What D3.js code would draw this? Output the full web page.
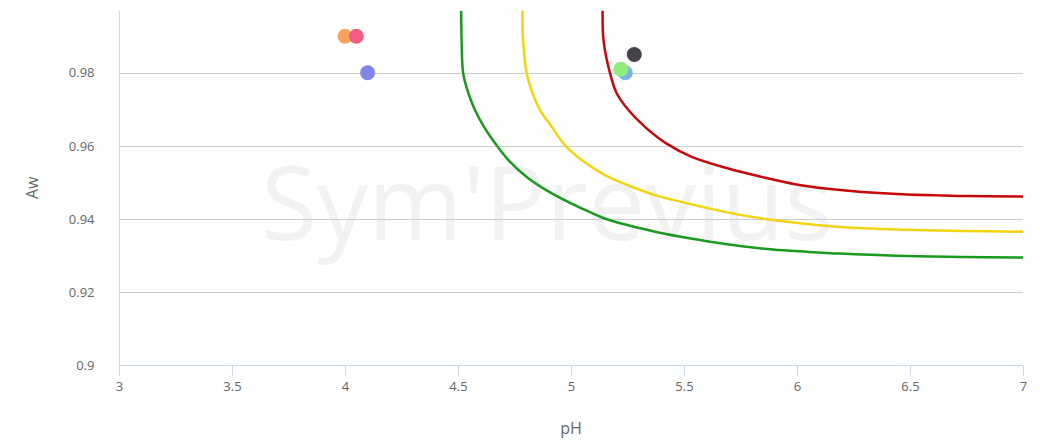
<!DOCTYPE html>
<html>
<head>
<meta charset="utf-8">
<script src="https://cdn.jsdelivr.net/npm/d3@7"></script>
<style>
  html, body { margin: 0; padding: 0; background: #fff; }
  svg { display: block; font-family: "Open Sans", "Noto Sans", sans-serif; }
</style>
</head>
<body>
<svg id="chart" width="1040" height="440"></svg>
<script>
// ---- data ----
const xTicks = [3, 3.5, 4, 4.5, 5, 5.5, 6, 6.5, 7];
const yTicks = [0.9, 0.92, 0.94, 0.96, 0.98];
const xTitle = "pH";
const yTitle = "Aw";
const watermark = "Sym'Previus";

const greenCurve = [
  [4.514, 0.9970], [4.516, 0.9889], [4.523, 0.9798], [4.546, 0.9744], [4.575, 0.9698],
  [4.615, 0.9652], [4.664, 0.9607], [4.723, 0.9561], [4.804, 0.9515], [4.915, 0.9470],
  [5.047, 0.9429], [5.150, 0.9401], [5.372, 0.9365], [5.602, 0.9339], [5.748, 0.9326],
  [5.894, 0.9316], [6.044, 0.9310], [6.190, 0.9305], [6.442, 0.9299], [6.735, 0.9296],
  [7.0, 0.9294]
];
const yellowCurve = [
  [4.785, 0.9970], [4.788, 0.9889], [4.804, 0.9798], [4.830, 0.9744], [4.863, 0.9698],
  [4.915, 0.9652], [4.973, 0.9602], [5.047, 0.9561], [5.150, 0.9520], [5.269, 0.9488],
  [5.372, 0.9465], [5.451, 0.9452], [5.602, 0.9430], [5.748, 0.9411], [5.894, 0.9397],
  [6.044, 0.9386], [6.190, 0.9378], [6.442, 0.9371], [6.735, 0.9367], [7.0, 0.9365]
];
const redCurve = [
  [5.140, 0.9970], [5.144, 0.9889], [5.173, 0.9798], [5.202, 0.9744], [5.254, 0.9698],
  [5.327, 0.9652], [5.423, 0.9606], [5.534, 0.9570], [5.696, 0.9538], [5.844, 0.9515],
  [5.991, 0.9495], [6.146, 0.9482], [6.442, 0.9468], [6.735, 0.9463], [7.0, 0.9461]
];
const curveColors = ["#1a9a1e", "#f2d410", "#c8070b"];

const pointsPH = [5.24, 5.28, 5.22, 4.0, 4.10, 4.05];
const pointsAw = [0.980, 0.985, 0.981, 0.990, 0.980, 0.990];
const pointColors = ["#7cb5ec", "#434348", "#90ed7d", "#f7a35c", "#8085e9", "#f15c80"];

// ---- layout ----
const W = 1040, H = 440;
const m = { left: 119, right: 17, top: 10.7, bottom: 75 };
const svg = d3.select("#chart");

const x = d3.scaleLinear().domain([3, 7]).range([m.left, W - m.right]);
const y = d3.scaleLinear().domain([0.9, 0.997]).range([H - m.bottom, m.top]);

// watermark
svg.append("text")
  .attr("x", 547)
  .attr("y", 240)
  .attr("text-anchor", "middle")
  .attr("font-size", 102)
  .attr("fill", "#f2f2f2")
  .text(watermark);

// gridlines
svg.append("g")
  .selectAll("line")
  .data(yTicks)
  .join("line")
  .attr("x1", x(3)).attr("x2", x(7))
  .attr("y1", d => Math.round(y(d)) + 0.5).attr("y2", d => Math.round(y(d)) + 0.5)
  .attr("stroke", "#cccccc").attr("stroke-width", 1);

// y axis
const yAxis = d3.axisLeft(y).tickValues(yTicks).tickSize(0).tickPadding(25)
  .tickFormat(d => d3.format("")(+d.toFixed(2)));
const gy = svg.append("g").attr("transform", `translate(${x(3) + 0.5},0)`).call(yAxis);
gy.select(".domain").attr("stroke", "#ccd6eb").attr("d", `M0,${y(0.997)}V${y(0.9)}`);
gy.selectAll("text").attr("fill", "#666666").attr("font-size", 13).attr("font-family", "Open Sans, sans-serif");

// x axis
const xAxis = d3.axisBottom(x).tickValues(xTicks).tickSize(10).tickPadding(6)
  .tickFormat(d => String(d));
const gx = svg.append("g").attr("transform", `translate(0,${Math.round(y(0.9)) + 0.5})`).call(xAxis);
gx.select(".domain").attr("stroke", "#ccd6eb").attr("d", `M${x(3)},0H${x(7)}`);
gx.selectAll(".tick line").attr("stroke", "#ccd6eb");
gx.selectAll("text").attr("fill", "#666666").attr("font-size", 13).attr("font-family", "Open Sans, sans-serif");

// axis titles
svg.append("text")
  .attr("x", (x(3) + x(7)) / 2).attr("y", 434)
  .attr("text-anchor", "middle").attr("fill", "#666666").attr("font-size", 16)
  .text(xTitle);
svg.append("text")
  .attr("transform", `translate(38,${(y(0.997) + y(0.9)) / 2}) rotate(-90)`)
  .attr("text-anchor", "middle").attr("fill", "#666666").attr("font-size", 16)
  .text(yTitle);

// curves
const line = d3.line().x(d => x(d[0])).y(d => y(d[1])).curve(d3.curveCatmullRom.alpha(0.5));
[greenCurve, yellowCurve, redCurve].forEach((c, i) => {
  svg.append("path").datum(c)
    .attr("d", line)
    .attr("fill", "none")
    .attr("stroke", curveColors[i])
    .attr("stroke-width", 2.5)
    .attr("stroke-linejoin", "round");
});

// points
svg.append("g").selectAll("circle")
  .data(pointsPH.map((p, i) => ({ p, a: pointsAw[i], c: pointColors[i] })))
  .join("circle")
  .attr("cx", d => x(d.p)).attr("cy", d => y(d.a))
  .attr("r", 7.5)
  .attr("fill", d => d.c);
</script>
</body>
</html>
